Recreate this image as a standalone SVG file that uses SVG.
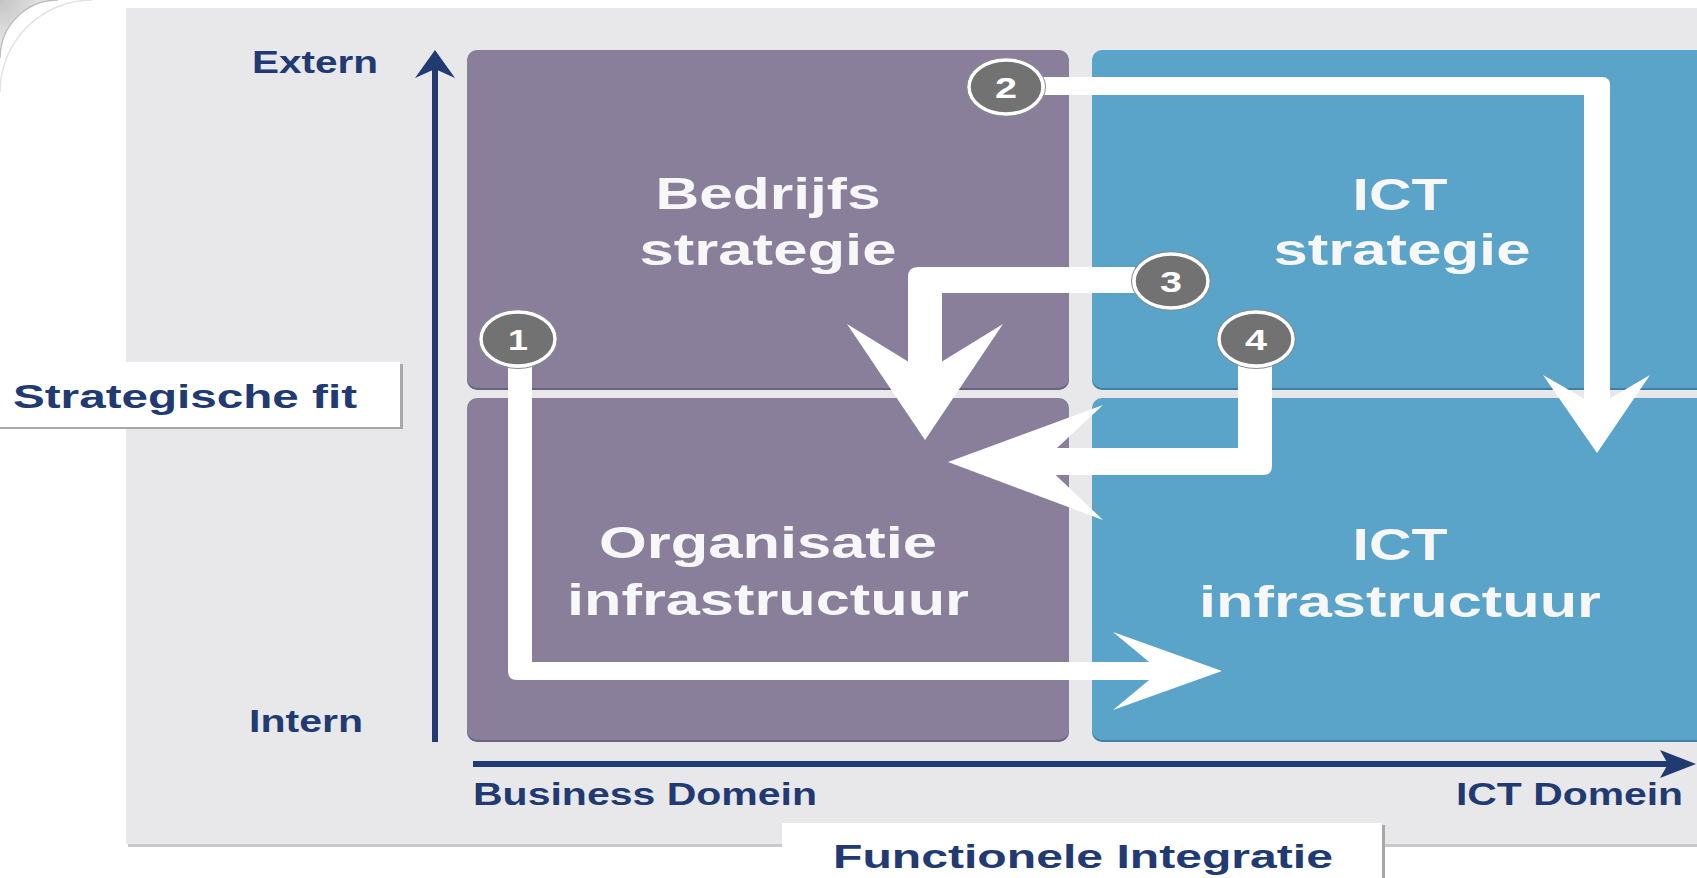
<svg xmlns="http://www.w3.org/2000/svg" width="1697" height="878" viewBox="0 0 1697 878">
  <defs>
    <style>
      .navy { fill: #213a72; font-family: "Liberation Sans", Arial, sans-serif; font-weight: bold; }
      .qt { fill: #f7f7f7; font-family: "Liberation Sans", Arial, sans-serif; font-weight: bold; font-size: 44px; text-anchor: middle; }
      .num { fill: #ffffff; font-family: "Liberation Sans", Arial, sans-serif; font-weight: bold; font-size: 30px; text-anchor: middle; }
      .purple { fill: #8a7f9b; }
      .blue { fill: #5aa3c9; }
      .arrow { fill: #ffffff; }
      .badge { fill: #727272; stroke: #ffffff; stroke-width: 3.5; }
      .badge-edge { fill: none; stroke: #8a8a8a; stroke-width: 1; }
    </style>
    <radialGradient id="corner" cx="0" cy="0" r="1">
      <stop offset="0" stop-color="#c4c4c4"/>
      <stop offset="1" stop-color="#eeeeee"/>
    </radialGradient>
  </defs>

  <!-- page background -->
  <rect x="0" y="0" width="1697" height="878" fill="#ffffff"/>
  <path d="M0,0 H58 A58,56 0 0 0 0,56 Z" fill="url(#corner)"/>
  <path d="M0,58 A58,58 0 0 1 58,0" fill="none" stroke="#bdbdbd" stroke-width="1.5"/>
  <path d="M0,92 A92,92 0 0 1 92,0" fill="none" stroke="#e2e2e2" stroke-width="1.5"/>

  <!-- panel -->
  <rect x="128" y="11" width="1575" height="836" fill="#c9c9c9"/>
  <rect x="126" y="8" width="1575" height="836" fill="#e8e8ea"/>

  <!-- quadrants -->
  <g id="bedrijfs-strategie">
    <rect x="467" y="52" width="602" height="338" rx="10" fill="#6b6180"/>
    <rect x="467" y="50" width="602" height="338" rx="10" class="purple"/>
    <text class="qt" x="768" y="209" textLength="225" lengthAdjust="spacingAndGlyphs">Bedrijfs</text>
    <text class="qt" x="768" y="265" textLength="257" lengthAdjust="spacingAndGlyphs">strategie</text>
  </g>
  <g id="ict-strategie">
    <rect x="1092" y="52" width="640" height="338" rx="10" fill="#3f7fa3"/>
    <rect x="1092" y="50" width="640" height="338" rx="10" class="blue"/>
    <text class="qt" x="1400" y="210" textLength="95" lengthAdjust="spacingAndGlyphs">ICT</text>
    <text class="qt" x="1402" y="265" textLength="257" lengthAdjust="spacingAndGlyphs">strategie</text>
  </g>
  <g id="organisatie-infrastructuur">
    <rect x="467" y="400" width="602" height="342" rx="10" fill="#6b6180"/>
    <rect x="467" y="398" width="602" height="342" rx="10" class="purple"/>
    <text class="qt" x="768" y="558" textLength="338" lengthAdjust="spacingAndGlyphs">Organisatie</text>
    <text class="qt" x="768" y="615" textLength="402" lengthAdjust="spacingAndGlyphs">infrastructuur</text>
  </g>
  <g id="ict-infrastructuur">
    <rect x="1092" y="400" width="640" height="342" rx="10" fill="#3f7fa3"/>
    <rect x="1092" y="398" width="640" height="342" rx="10" class="blue"/>
    <text class="qt" x="1400" y="560" textLength="95" lengthAdjust="spacingAndGlyphs">ICT</text>
    <text class="qt" x="1400" y="617" textLength="402" lengthAdjust="spacingAndGlyphs">infrastructuur</text>
  </g>

  <!-- axes -->
  <g id="axes">
    <rect x="432" y="64" width="6" height="678" fill="#213a72"/>
    <path d="M435,50 L455,78 L435,69 L415,78 Z" fill="#213a72"/>
    <rect x="473" y="761" width="1200" height="6" fill="#213a72"/>
    <path d="M1696,764 L1660,750 L1668,764 L1660,778 Z" fill="#213a72"/>
  </g>

  <!-- axis labels -->
  <g id="axis-labels">
    <text class="navy" x="252" y="73" font-size="32" textLength="126" lengthAdjust="spacingAndGlyphs">Extern</text>
    <text class="navy" x="249" y="732" font-size="31" textLength="114" lengthAdjust="spacingAndGlyphs">Intern</text>
    <text class="navy" x="473" y="805" font-size="31" textLength="344" lengthAdjust="spacingAndGlyphs">Business Domein</text>
    <text class="navy" x="1456" y="805" font-size="31" textLength="227" lengthAdjust="spacingAndGlyphs">ICT Domein</text>
  </g>

  <g id="strategische-fit">
    <rect x="0" y="364" width="403" height="65" fill="#a8a8a8"/>
    <rect x="0" y="362" width="400" height="65" fill="#ffffff"/>
    <text class="navy" x="13" y="408" font-size="33" textLength="344" lengthAdjust="spacingAndGlyphs">Strategische fit</text>
  </g>

  <g id="functionele-integratie">
    <rect x="785" y="825" width="600" height="60" fill="#a8a8a8"/>
    <rect x="782" y="823" width="600" height="60" fill="#ffffff"/>
    <text class="navy" x="1083" y="868" font-size="33" text-anchor="middle" textLength="500" lengthAdjust="spacingAndGlyphs">Functionele Integratie</text>
  </g>

  <!-- connectors -->
  <g id="connectors">
    <!-- arrow 1 -->
    <path class="arrow" d="M508,366 H532 V662 H1165 V680 H517 Q508,680 508,671 Z"/>
    <path class="arrow" d="M1113,632 L1222,671 L1113,710 L1160,671 Z"/>
    <!-- arrow 2 -->
    <path class="arrow" d="M1040,77 H1602 Q1610,77 1610,85 V412 H1584 V95 H1040 Z"/>
    <path class="arrow" d="M1543,375 L1597,453 L1650,375 L1597,406 Z"/>
    <!-- arrow 3 -->
    <path class="arrow" d="M1135,267 H918 Q908,267 908,277 V378 H942 V293 H1135 Z"/>
    <path class="arrow" d="M847,324 L925,440 L1003,324 L925,372 Z"/>
    <!-- arrow 4 -->
    <path class="arrow" d="M1238,364 H1272 V466 Q1272,475 1263,475 H1035 V448 H1238 Z"/>
    <path class="arrow" d="M1103,405 L948,462 L1103,520 L1042,462 Z"/>
  </g>

  <!-- numbered badges -->
  <g id="badge-1">
    <ellipse class="badge" cx="518" cy="339" rx="37" ry="27"/>
    <ellipse class="badge-edge" cx="518" cy="339" rx="39.5" ry="29.5"/>
    <text class="num" x="518" y="350" textLength="20" lengthAdjust="spacingAndGlyphs">1</text>
  </g>
  <g id="badge-2">
    <ellipse class="badge" cx="1006" cy="87" rx="37" ry="27"/>
    <ellipse class="badge-edge" cx="1006" cy="87" rx="39.5" ry="29.5"/>
    <text class="num" x="1006" y="98" textLength="22" lengthAdjust="spacingAndGlyphs">2</text>
  </g>
  <g id="badge-3">
    <ellipse class="badge" cx="1171" cy="281" rx="37" ry="27"/>
    <ellipse class="badge-edge" cx="1171" cy="281" rx="39.5" ry="29.5"/>
    <text class="num" x="1171" y="292" textLength="22" lengthAdjust="spacingAndGlyphs">3</text>
  </g>
  <g id="badge-4">
    <ellipse class="badge" cx="1256" cy="339" rx="37" ry="27"/>
    <ellipse class="badge-edge" cx="1256" cy="339" rx="39.5" ry="29.5"/>
    <text class="num" x="1256" y="350" textLength="22" lengthAdjust="spacingAndGlyphs">4</text>
  </g>
</svg>
